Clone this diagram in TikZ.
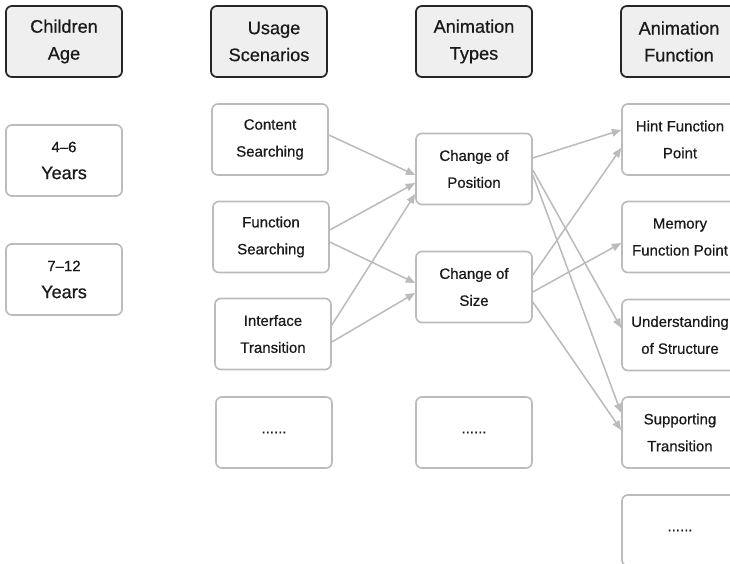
\documentclass[tikz,border=0pt]{standalone}
\usepackage{fontspec}
\setmainfont{Liberation Sans}[BoldFont={Liberation Sans}, BoldFeatures={FakeBold=0.6}]
\usetikzlibrary{arrows.meta,calc}
\definecolor{cardline}{HTML}{BBBBBB}
\definecolor{headfill}{HTML}{EFEFEF}
\definecolor{headline}{HTML}{262626}
\definecolor{cardtext}{HTML}{1A1A1A}
\tikzset{
  card/.style={draw=cardline, line width=1.4pt, rounded corners=5pt, fill=white,
    minimum width=3.48cm, minimum height=2.13cm, inner sep=0pt, align=center,
    text=cardtext, font=\bfseries\fontsize{12.8}{23}\selectfont},
  head/.style={card, draw=headline, line width=1.5pt, fill=headfill,
    font=\bfseries\fontsize{15.5}{23}\selectfont},
  link/.style={draw=cardline, line width=1.3pt, -{Triangle[length=8pt,width=6.5pt]}}
}
\begin{document}
\begin{tikzpicture}[x=0.03cm, y=0.03cm]
\clip (0, 0) rectangle (730, 564);

\node[head] (hage) at (64, 522.5) {Children\\Age};
\node[head] (huse) at (269, 522.5) {\ \ Usage\\Scenarios};
\node[head] (htype) at (474, 522.5) {Animation\\Types};
\node[head] (hfun) at (679, 522.5) {Animation\\Function};

\node[card] (young) at (64, 403.5) {4–6\\{\fontsize{15.5}{23}\selectfont Years}};
\node[card] (old) at (64, 284.5) {7–12\\{\fontsize{15.5}{23}\selectfont Years}};

\node[card] (content) at (270, 424.5) {Content\\Searching};
\node[card] (funsearch) at (271, 327) {Function\\Searching};
\node[card] (iface) at (273, 230) {Interface\\Transition};
\node[card] (usemore) at (274, 131.5) {......};

\node[card] (pos) at (474, 395) {Change of\\Position};
\node[card] (size) at (474, 277) {Change of\\Size};
\node[card] (typemore) at (474, 131.5) {......};

\node[card] (hint) at (680, 424.5) {Hint Function\\Point};
\node[card] (memory) at (680, 327) {Memory\\Function Point};
\node[card] (struct) at (680, 229) {Understanding\\of Structure};
\node[card] (support) at (680, 131.5) {Supporting\\Transition};
\node[card] (funmore) at (680, 33.5) {......};

\draw[link] ($(content.east)+(0, 4.5)$) -- ($(pos.west)+(0, -6)$);
\draw[link] ($(funsearch.east)+(0, 7)$) -- ($(pos.west)+(0, -14)$);
\draw[link] ($(funsearch.east)+(0, -5)$) -- ($(size.west)+(0, 4)$);
\draw[link] ($(iface.east)+(0, 9)$) -- ($(pos.west)+(0, -25)$);
\draw[link] ($(iface.east)+(0, -8)$) -- ($(size.west)+(0, -6)$);

\draw[link] ($(pos.east)+(0, 11)$) -- ($(hint.west)+(0, 9.5)$);
\draw[link] ($(pos.east)+(0, -1)$) -- ($(struct.west)+(0, 7)$);
\draw[link] ($(pos.east)+(0, -6)$) -- ($(support.west)+(0, 19.5)$);
\draw[link] ($(size.east)+(0, 12)$) -- ($(hint.west)+(0, -8.5)$);
\draw[link] ($(size.east)+(0, -5)$) -- ($(memory.west)+(0, -6)$);
\draw[link] ($(size.east)+(0, -15)$) -- ($(support.west)+(0, 2.5)$);
\end{tikzpicture}
\end{document}
